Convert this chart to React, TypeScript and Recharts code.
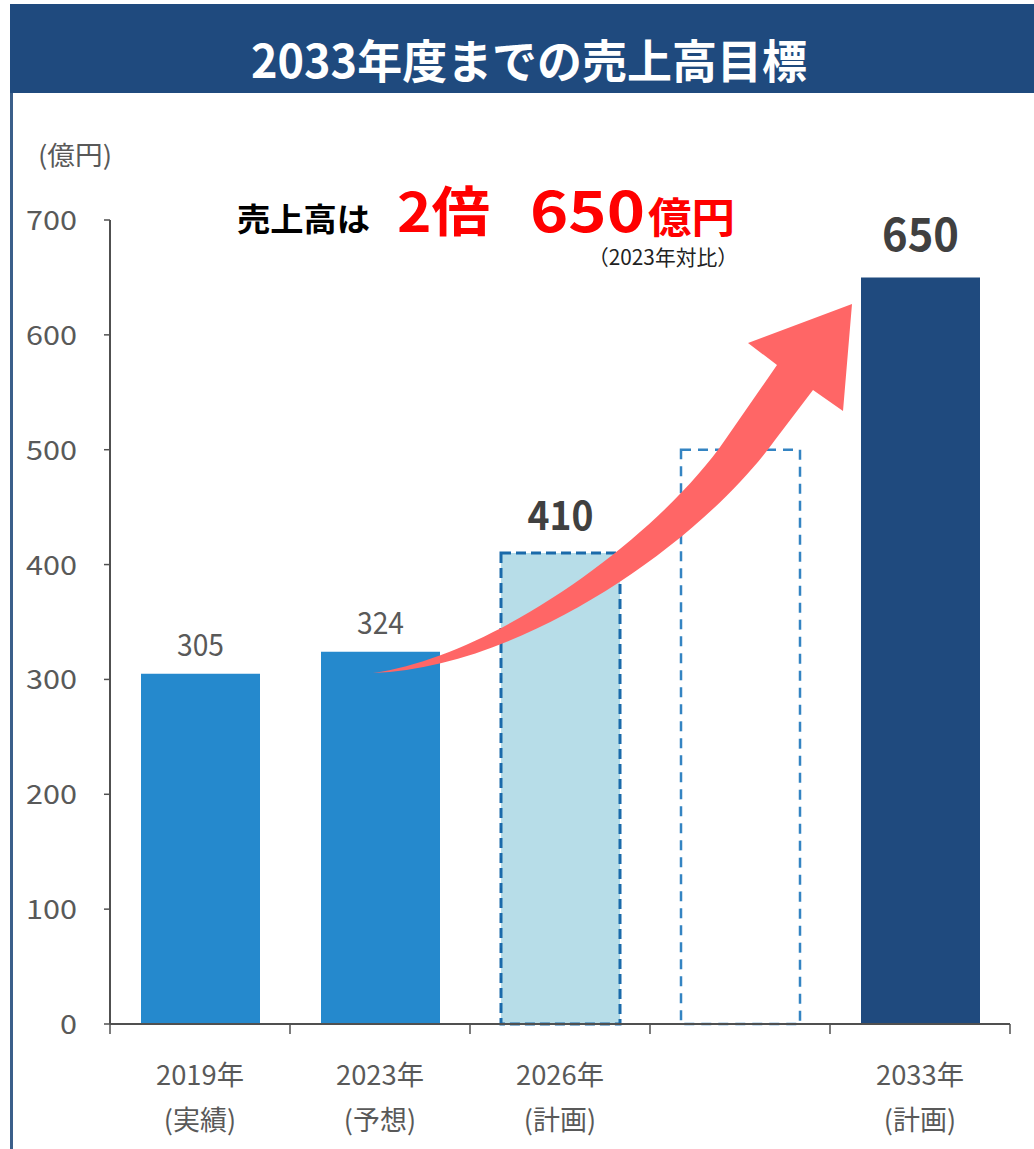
import React from 'react';
import { BarChart, Bar, XAxis, YAxis, Cell, LabelList } from 'recharts';

// ---- data ----
const categories = ['2019年', '2023年', '2026年', '', '2033年'];
const categoryNotes = ['(実績)', '(予想)', '(計画)', '', '(計画)'];
const sales = [305, 324, 410, 500, 650];
const valueLabels = ['305', '324', '410', '', '650'];
const yTicks = [0, 100, 200, 300, 400, 500, 600, 700];

const data = categories.map((c, i) => ({ category: c || ' ', sales: sales[i] }));

// ---- layout / style ----
const W = 1034;
const H = 1149;
const PLOT_LEFT = 110;
const PLOT_RIGHT = 1010;
const BAND = (PLOT_RIGHT - PLOT_LEFT) / categories.length;
const FONT = '"Noto Sans CJK JP", "Noto Sans", sans-serif';
const AXIS_COLOR = '#505050';
const TEXT_GRAY = '#595959';

const barStyles = [
  { fill: '#2589cd', stroke: 'none', strokeWidth: 0, dash: undefined as string | undefined },
  { fill: '#2589cd', stroke: 'none', strokeWidth: 0, dash: undefined },
  { fill: '#b7dde8', stroke: '#1a6aaa', strokeWidth: 3, dash: '10 5' },
  { fill: '#ffffff', stroke: '#3484c2', strokeWidth: 2.5, dash: '10 7' },
  { fill: '#1f4a7e', stroke: 'none', strokeWidth: 0, dash: undefined },
];

const labelStyles = [
  { size: 30, weight: 400, color: TEXT_GRAY, gap: 18, len: 47 },
  { size: 30, weight: 400, color: TEXT_GRAY, gap: 18, len: 47 },
  { size: 40, weight: 700, color: '#404040', gap: 23, len: 66 },
  null,
  { size: 46, weight: 700, color: '#404040', gap: 26, len: 77 },
];

const XTick = (props: any) => {
  const { x, y, payload } = props;
  const i = props.index ?? payload.index;
  const last = i === categories.length - 1;
  return (
    <g>
      <line x1={x - BAND / 2} y1={y} x2={x - BAND / 2} y2={y + 10} stroke={AXIS_COLOR} strokeWidth={1.5} />
      {last && <line x1={x + BAND / 2} y1={y} x2={x + BAND / 2} y2={y + 10} stroke={AXIS_COLOR} strokeWidth={1.5} />}
      {categories[i] && (
        <text x={x} y={y + 61} textAnchor="middle" fontSize={27} fill={TEXT_GRAY} fontFamily={FONT} textLength={88} lengthAdjust="spacingAndGlyphs">
          {categories[i]}
        </text>
      )}
      {categoryNotes[i] && (
        <text x={x} y={y + 106} textAnchor="middle" fontSize={27} fill={TEXT_GRAY} fontFamily={FONT}>
          {categoryNotes[i]}
        </text>
      )}
    </g>
  );
};

const YTick = (props: any) => {
  const { x, y, payload } = props;
  const s = String(payload.value);
  return (
    <text x={x} y={y + 10} textAnchor="end" fontSize={27} fill={TEXT_GRAY} fontFamily={FONT} textLength={17 * s.length} lengthAdjust="spacingAndGlyphs">
      {s}
    </text>
  );
};

const renderLabel = (props: any) => {
  const { x, y, width, index } = props;
  const st = labelStyles[index];
  if (!st || !valueLabels[index]) return null;
  return (
    <text
      x={x + width / 2}
      y={y - st.gap}
      textAnchor="middle"
      fontSize={st.size}
      fontWeight={st.weight}
      fill={st.color}
      fontFamily={FONT}
      textLength={st.len}
      lengthAdjust="spacingAndGlyphs"
    >
      {valueLabels[index]}
    </text>
  );
};

const Overlay = () => (
  <svg width={W} height={H} style={{ position: 'absolute', left: 0, top: 0, pointerEvents: 'none' }}>
    <rect x={10} y={4} width={W - 10} height={89} fill="#1f4a7e" />
    <rect x={10} y={93} width={3} height={H - 93} fill="#3b5f8a" />
    <text x={529} y={78} textAnchor="middle" fontSize={46} fontWeight={700} fill="#ffffff" fontFamily={FONT} textLength={556} lengthAdjust="spacingAndGlyphs">
      2033年度までの売上高目標
    </text>
    <text x={38} y={165} fontSize={26} fill={TEXT_GRAY} fontFamily={FONT} textLength={74} lengthAdjust="spacingAndGlyphs">
      (億円)
    </text>
    <text x={237} y={231} fontSize={32} fontWeight={700} fill="#000000" fontFamily={FONT} textLength={133} lengthAdjust="spacingAndGlyphs">
      売上高は
    </text>
    <text x={397} y={232} fontSize={54} fontWeight={700} fill="#ff0000" fontFamily={FONT} textLength={93} lengthAdjust="spacingAndGlyphs">
      2倍
    </text>
    <text x={530} y={232} fontSize={57} fontWeight={700} fill="#ff0000" fontFamily={FONT} textLength={115} lengthAdjust="spacingAndGlyphs">
      650
    </text>
    <text x={648} y={233} fontSize={42} fontWeight={700} fill="#ff0000" fontFamily={FONT} textLength={87} lengthAdjust="spacingAndGlyphs">
      億円
    </text>
    <text x={588} y={265} fontSize={21} fill="#222222" fontFamily={FONT} textLength={150} lengthAdjust="spacingAndGlyphs">
      （2023年対比）
    </text>
    <path
      d="M 373 673 C 520 668, 699 545, 775 440 L 813 390 L 843 411 L 852 304 L 748 343 L 777 365 L 725 440 C 662 532, 500 655, 373 673 Z"
      fill="#ff6666"
    />
  </svg>
);

export default function App() {
  return (
    <div style={{ position: 'absolute', left: 0, top: 0, width: W, height: H, background: '#ffffff' }}>
      <BarChart width={W} height={H} data={data} margin={{ top: 220, right: W - PLOT_RIGHT, bottom: 0, left: 0 }}>
        <XAxis
          dataKey="category"
          height={125}
          interval={0}
          tickLine={false}
          tickSize={0}
          tickMargin={0}
          axisLine={{ stroke: AXIS_COLOR, strokeWidth: 2 }}
          tick={<XTick />}
        />
        <YAxis
          width={PLOT_LEFT}
          domain={[0, 700]}
          ticks={yTicks}
          interval={0}
          tickSize={6}
          tickMargin={27}
          tickLine={{ stroke: AXIS_COLOR, strokeWidth: 1.5 }}
          axisLine={{ stroke: AXIS_COLOR, strokeWidth: 2 }}
          tick={<YTick />}
        />
        <Bar dataKey="sales" barSize={119} isAnimationActive={false}>
          {sales.map((_, i) => (
            <Cell
              key={i}
              fill={barStyles[i].fill}
              stroke={barStyles[i].stroke}
              strokeWidth={barStyles[i].strokeWidth}
              strokeDasharray={barStyles[i].dash}
            />
          ))}
          <LabelList dataKey="sales" content={renderLabel} />
        </Bar>
      </BarChart>
      <Overlay />
    </div>
  );
}
